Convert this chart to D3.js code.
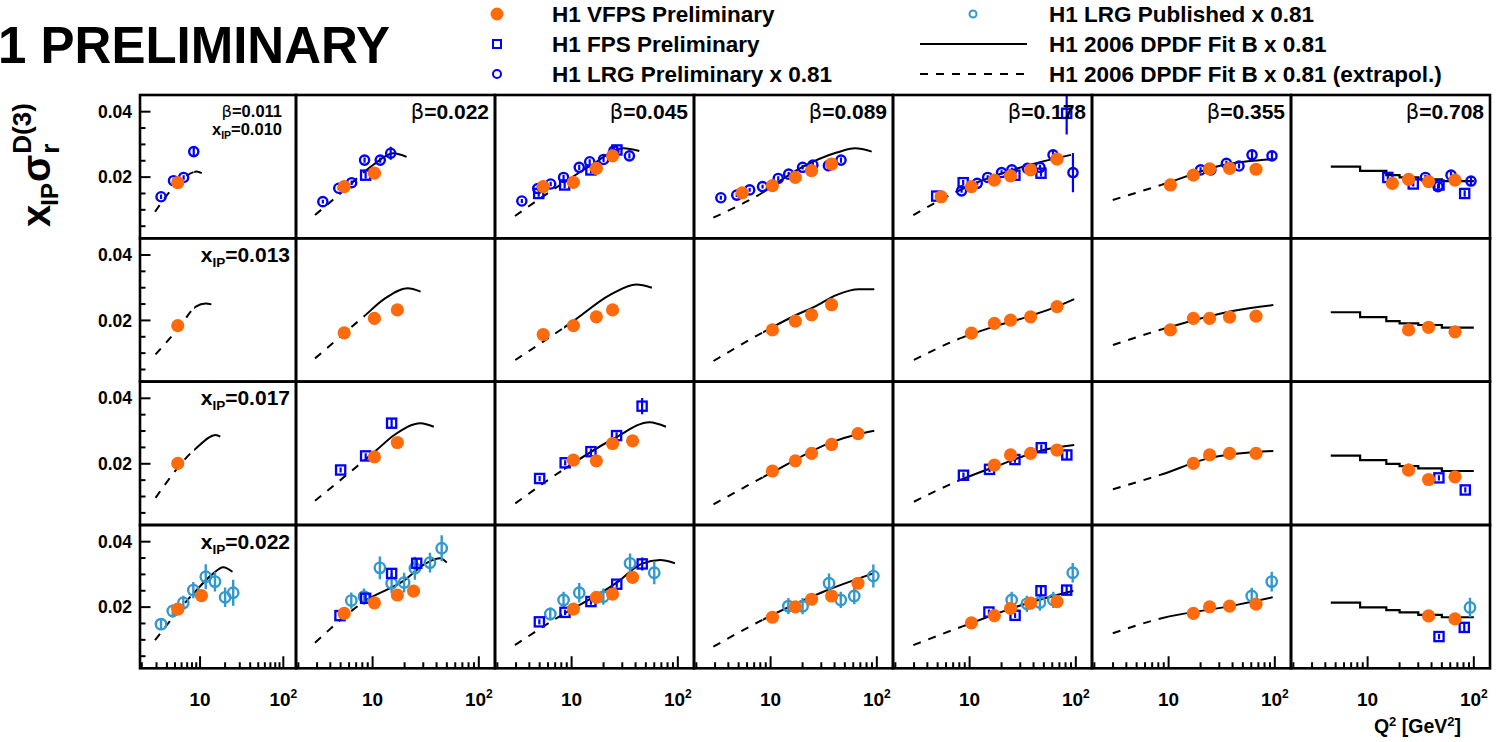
<!DOCTYPE html>
<html>
<head>
<meta charset="utf-8">
<script src="https://cdn.jsdelivr.net/npm/d3@7"></script>
<style>
  body { margin: 0; background: #fff; }
  svg text { font-family: "Liberation Sans", Arial, Helvetica, sans-serif; font-weight: bold; fill: #000; }
</style>
</head>
<body>
<svg id="chart" width="1504" height="742"></svg>
<script>
// Bin labels
var betaLabels = ["0.011", "0.022", "0.045", "0.089", "0.178", "0.355", "0.708"];
var xpomLabels = ["0.010", "0.013", "0.017", "0.022"];

// Axis ranges and ticks
var q2Range = [1.9, 142];
var sigmaRange = [0.0013, 0.0451];
var xMajorTicks = [10, 100];
var xMinorTicks = [2, 3, 4, 5, 6, 7, 8, 9, 20, 30, 40, 50, 60, 70, 80, 90];
var yMajorTicks = [0.02, 0.04];
var yMinorTicks = [0.005, 0.01, 0.015, 0.025, 0.03, 0.035];
var fitQ2Min = 8.5; // fit is dashed (extrapolated) below this

// H1 VFPS Preliminary: [row, col, Q2, value, error]
var vfps = [
  [0,0,5.4,0.0183,0.0008],
  [0,1,5.4,0.0171,0.0008],[0,1,10.4,0.0212,0.0009],
  [0,2,5.4,0.0171,0.0008],[0,2,10.4,0.0184,0.0008],[0,2,17.1,0.0227,0.0010],[0,2,24.3,0.0265,0.0015],
  [0,3,5.4,0.0152,0.0007],[0,3,10.4,0.0174,0.0008],[0,3,17.1,0.0199,0.0009],[0,3,24.3,0.0220,0.0010],[0,3,37.5,0.0240,0.0012],
  [0,4,5.4,0.0140,0.0007],[0,4,10.4,0.0171,0.0008],[0,4,17.1,0.0191,0.0009],[0,4,24.3,0.0204,0.0010],[0,4,37.5,0.0222,0.0010],[0,4,66.5,0.0255,0.0015],
  [0,5,10.4,0.0176,0.0008],[0,5,17.1,0.0206,0.0009],[0,5,24.3,0.0225,0.0010],[0,5,37.5,0.0227,0.0010],[0,5,66.5,0.0224,0.0010],
  [0,6,17.1,0.0181,0.0009],[0,6,24.3,0.0193,0.0012],[0,6,37.5,0.0186,0.0012],[0,6,66.5,0.0191,0.0015],
  [1,0,5.4,0.0184,0.0008],
  [1,1,5.4,0.0162,0.0008],[1,1,10.4,0.0206,0.0009],[1,1,17.1,0.0232,0.0012],
  [1,2,5.4,0.0157,0.0008],[1,2,10.4,0.0184,0.0008],[1,2,17.1,0.0211,0.0009],[1,2,24.3,0.0232,0.0010],
  [1,3,10.4,0.0171,0.0008],[1,3,17.1,0.0198,0.0009],[1,3,24.3,0.0217,0.0010],[1,3,37.5,0.0248,0.0012],
  [1,4,10.4,0.0161,0.0008],[1,4,17.1,0.0191,0.0012],[1,4,24.3,0.0201,0.0010],[1,4,37.5,0.0211,0.0010],[1,4,66.5,0.0242,0.0015],
  [1,5,10.4,0.0171,0.0008],[1,5,17.1,0.0206,0.0012],[1,5,24.3,0.0206,0.0010],[1,5,37.5,0.0210,0.0010],[1,5,66.5,0.0213,0.0010],
  [1,6,24.3,0.0171,0.0010],[1,6,37.5,0.0179,0.0010],[1,6,66.5,0.0165,0.0010],
  [2,0,5.4,0.0201,0.0008],
  [2,1,10.4,0.0221,0.0009],[2,1,17.1,0.0265,0.0015],
  [2,2,10.4,0.0211,0.0009],[2,2,17.1,0.0209,0.0010],[2,2,24.3,0.0262,0.0012],[2,2,37.5,0.0270,0.0015],
  [2,3,10.4,0.0178,0.0008],[2,3,17.1,0.0209,0.0009],[2,3,24.3,0.0232,0.0010],[2,3,37.5,0.0259,0.0012],[2,3,66.5,0.0292,0.0015],
  [2,4,17.1,0.0196,0.0009],[2,4,24.3,0.0227,0.0012],[2,4,37.5,0.0232,0.0012],[2,4,66.5,0.0242,0.0012],
  [2,5,17.1,0.0201,0.0015],[2,5,24.3,0.0227,0.0012],[2,5,37.5,0.0232,0.0012],[2,5,66.5,0.0232,0.0012],
  [2,6,24.3,0.0181,0.0020],[2,6,37.5,0.0152,0.0010],[2,6,66.5,0.0160,0.0010],
  [3,0,5.4,0.0194,0.0008],[3,0,10.4,0.0235,0.0010],
  [3,1,5.4,0.0181,0.0008],[3,1,10.4,0.0213,0.0009],[3,1,17.1,0.0237,0.0010],[3,1,24.3,0.0249,0.0012],
  [3,2,10.4,0.0194,0.0009],[3,2,17.1,0.0230,0.0010],[3,2,24.3,0.0240,0.0012],[3,2,37.5,0.0291,0.0015],
  [3,3,10.4,0.0169,0.0008],[3,3,17.1,0.0201,0.0009],[3,3,24.3,0.0224,0.0010],[3,3,37.5,0.0234,0.0012],[3,3,66.5,0.0273,0.0015],
  [3,4,10.4,0.0152,0.0008],[3,4,17.1,0.0174,0.0009],[3,4,24.3,0.0196,0.0010],[3,4,37.5,0.0212,0.0010],[3,4,66.5,0.0217,0.0012],
  [3,5,17.1,0.0181,0.0012],[3,5,24.3,0.0201,0.0012],[3,5,37.5,0.0203,0.0010],[3,5,66.5,0.0209,0.0010],
  [3,6,37.5,0.0173,0.0010],[3,6,66.5,0.0164,0.0010]
];

// H1 FPS Preliminary: [row, col, Q2, value, error]
var fps = [
  [0,1,8.6,0.0206,0.0010],
  [0,2,4.9,0.0150,0.0010],[0,2,8.6,0.0176,0.0010],[0,2,15.2,0.0222,0.0010],[0,2,26.7,0.0283,0.0015],
  [0,4,4.9,0.0142,0.0008],[0,4,8.7,0.0183,0.0008],[0,4,26.7,0.0206,0.0008],[0,4,47,0.0212,0.0010],[0,4,82,0.0395,0.0065],
  [0,6,15.5,0.0199,0.0008],[0,6,26.9,0.0179,0.0008],[0,6,47,0.0176,0.0010],[0,6,82,0.0150,0.0010],
  [2,1,5.0,0.0181,0.0008],[2,1,8.6,0.0224,0.0008],[2,1,15.1,0.0324,0.0015],
  [2,2,5.0,0.0155,0.0008],[2,2,8.7,0.0203,0.0008],[2,2,15.2,0.0237,0.0010],[2,2,26.5,0.0286,0.0010],[2,2,46.1,0.0376,0.0025],
  [2,4,8.75,0.0165,0.0008],[2,4,15.4,0.0183,0.0008],[2,4,26.7,0.0213,0.0010],[2,4,47.3,0.0249,0.0010],[2,4,82.3,0.0227,0.0015],
  [2,6,46.9,0.0157,0.0008],[2,6,83.1,0.0120,0.0008],
  [3,1,4.93,0.0174,0.0008],[3,1,8.6,0.0227,0.0010],[3,1,15.1,0.0303,0.0012],[3,1,26,0.0334,0.0015],
  [3,2,4.97,0.0155,0.0008],[3,2,8.67,0.0184,0.0008],[3,2,15.2,0.0217,0.0010],[3,2,26.6,0.0270,0.0010],[3,2,46.2,0.0332,0.0020],
  [3,4,15.2,0.0185,0.0008],[3,4,26.8,0.0175,0.0008],[3,4,47,0.0250,0.0012],[3,4,82,0.0252,0.0015],
  [3,6,47,0.0110,0.0008],[3,6,81.3,0.0138,0.0012]
];

// H1 LRG Preliminary x 0.81: [row, col, Q2, value, error]
var lrgPrelim = [
  [0,0,3.4,0.0140,0.0007],[0,0,4.8,0.0189,0.0007],[0,0,6.35,0.0199,0.0007],[0,0,8.4,0.0278,0.0012],
  [0,1,3.4,0.0125,0.0006],[0,1,4.8,0.0166,0.0006],[0,1,6.35,0.0183,0.0007],[0,1,8.4,0.0252,0.0008],[0,1,11.8,0.0252,0.0008],[0,1,14.8,0.0273,0.0020],
  [0,2,3.4,0.0127,0.0006],[0,2,4.8,0.0165,0.0006],[0,2,6.35,0.0179,0.0007],[0,2,8.4,0.0199,0.0008],[0,2,11.8,0.0230,0.0008],[0,2,14.8,0.0247,0.0008],[0,2,20,0.0254,0.0008],[0,2,25,0.0280,0.0012],[0,2,35,0.0265,0.0008],
  [0,3,3.4,0.0137,0.0006],[0,3,4.8,0.0145,0.0006],[0,3,6.35,0.0161,0.0006],[0,3,8.4,0.0171,0.0006],[0,3,11.8,0.0196,0.0007],[0,3,14.8,0.0209,0.0007],[0,3,20,0.0230,0.0007],[0,3,25,0.0237,0.0008],[0,3,35,0.0235,0.0008],[0,3,46,0.0252,0.0008],
  [0,4,8.4,0.0158,0.0006],[0,4,11.8,0.0181,0.0006],[0,4,14.8,0.0199,0.0007],[0,4,20,0.0214,0.0007],[0,4,25,0.0222,0.0007],[0,4,35,0.0227,0.0008],[0,4,46,0.0230,0.0008],[0,4,61,0.0268,0.0012],[0,4,94,0.0214,0.0060],
  [0,5,20,0.0222,0.0008],[0,5,25,0.0222,0.0008],[0,5,35,0.0242,0.0008],[0,5,46,0.0234,0.0008],[0,5,61,0.0268,0.0015],[0,5,94,0.0265,0.0015],
  [0,6,35,0.0199,0.0008],[0,6,46,0.0171,0.0008],[0,6,61,0.0206,0.0010],[0,6,94,0.0188,0.0012]
];

// H1 LRG Published x 0.81: [row, col, Q2, value, error]
var lrgPub = [
  [3,0,3.4,0.0148,0.0018],[3,0,4.7,0.0188,0.0020],[3,0,6.3,0.0213,0.0022],[3,0,8.3,0.0252,0.0025],[3,0,11.7,0.0293,0.0038],[3,0,15.1,0.0278,0.0030],[3,0,20,0.0230,0.0030],[3,0,25,0.0244,0.0040],
  [3,1,6.3,0.0220,0.0025],[3,1,8.3,0.0232,0.0025],[3,1,11.7,0.0320,0.0035],[3,1,15.1,0.0273,0.0030],[3,1,19.8,0.0275,0.0030],[3,1,25,0.0319,0.0035],[3,1,34.7,0.0336,0.0030],[3,1,44.7,0.0380,0.0040],
  [3,2,6.3,0.0179,0.0020],[3,2,8.4,0.0222,0.0025],[3,2,11.8,0.0244,0.0030],[3,2,19.9,0.0232,0.0025],[3,2,35.5,0.0334,0.0030],[3,2,60,0.0305,0.0035],
  [3,3,14.7,0.0203,0.0025],[3,3,20,0.0203,0.0025],[3,3,35.5,0.0273,0.0030],[3,3,45.8,0.0222,0.0025],[3,3,61.3,0.0234,0.0025],[3,3,92.7,0.0295,0.0035],
  [3,4,24.9,0.0222,0.0025],[3,4,34.6,0.0210,0.0025],[3,4,45.9,0.0214,0.0025],[3,4,61.4,0.0222,0.0025],[3,4,93.5,0.0305,0.0030],
  [3,5,60.6,0.0234,0.0025],[3,5,93.5,0.0278,0.0030],
  [3,6,92,0.0199,0.0030]
];

// H1 2006 DPDF Fit B x 0.81: [row, col, [[Q2, value], ...]]
var fitCurves = [
  [0,0,[[2.88,0.0094],[4.16,0.0150],[6.6,0.0201],[9.1,0.0217],[10.5,0.0212]]],
  [0,1,[[2.87,0.0084],[5.0,0.0151],[10.1,0.0237],[15.7,0.0273],[20.9,0.0262]]],
  [0,2,[[2.93,0.0081],[7.8,0.0176],[14.9,0.0234],[30.7,0.0288],[43.4,0.0280]]],
  [0,3,[[2.89,0.0076],[7.4,0.0142],[18.9,0.0227],[41.9,0.0275],[62.4,0.0288],[89.5,0.0278]]],
  [0,4,[[2.95,0.0084],[10.3,0.0176],[32,0.0232],[90,0.0268]]],
  [0,5,[[2.98,0.0130],[8.9,0.0178],[32.8,0.0237],[100,0.0255]]],
  [1,0,[[2.92,0.0096],[5.5,0.0176],[8.9,0.0242],[11.7,0.0252],[13.7,0.0249]]],
  [1,1,[[2.87,0.0084],[8.2,0.0211],[13.2,0.0268],[21.3,0.0298],[28.3,0.0288]]],
  [1,2,[[2.95,0.0079],[10.7,0.0201],[23,0.0278],[40.8,0.0310],[57,0.0300]]],
  [1,3,[[2.9,0.0076],[10.5,0.0180],[17,0.0215],[26,0.0242],[42,0.0278],[68,0.0295],[94.6,0.0295]]],
  [1,4,[[2.99,0.0079],[8.1,0.0145],[15.8,0.0178],[37.3,0.0214],[66,0.0242],[96.6,0.0265]]],
  [1,5,[[2.99,0.0125],[8.7,0.0173],[39.9,0.0229],[96.8,0.0247]]],
  [2,0,[[2.92,0.0096],[8.9,0.0247],[15.5,0.0288],[17.5,0.0283]]],
  [2,1,[[2.87,0.0087],[10.9,0.0242],[16,0.0288],[28.3,0.0324],[37.7,0.0313]]],
  [2,2,[[2.95,0.0079],[9.7,0.0196],[25.3,0.0278],[54.2,0.0327],[77.3,0.0313]]],
  [2,3,[[2.9,0.0076],[10.5,0.0175],[38.4,0.0267],[66,0.0290],[94.6,0.0301]]],
  [2,4,[[2.99,0.0084],[8.1,0.0150],[19.1,0.0196],[49.7,0.0242],[96.6,0.0257]]],
  [2,5,[[2.99,0.0122],[8.7,0.0168],[24.5,0.0218],[96.8,0.0239]]],
  [3,0,[[2.88,0.0099],[8.7,0.0247],[14,0.0300],[19,0.0322],[24.5,0.0308]]],
  [3,1,[[2.87,0.0091],[8.8,0.0222],[19.5,0.0280],[32.3,0.0335],[43.2,0.0349],[49.9,0.0336]]],
  [3,2,[[2.93,0.0084],[7.2,0.0166],[26.6,0.0275],[46,0.0333],[68,0.0344],[94,0.0334]]],
  [3,3,[[2.89,0.0079],[8.5,0.0162],[31.4,0.0247],[92.7,0.0303]]],
  [3,4,[[2.95,0.0084],[8.7,0.0142],[30,0.0205],[94.7,0.0250]]],
  [3,5,[[2.98,0.0120],[8.6,0.0166],[37.8,0.0203],[95.5,0.0230]]]
];

// Fit at beta=0.708 is drawn as a histogram
var stepEdges = [4.5, 8.5, 15, 20, 30, 50, 100];
var stepValues = [
  [0.0232, 0.0219, 0.0206, 0.0199, 0.0193, 0.0188],
  [0.0225, 0.0210, 0.0198, 0.0191, 0.0186, 0.0178],
  [0.0225, 0.0211, 0.0200, 0.0193, 0.0186, 0.0178],
  [0.0214, 0.0199, 0.0191, 0.0184, 0.0176, 0.0169]
];

var colOrange = "#ff6a0d";
var colBlue = "#0000ff";
var colLight = "#3399cc";

// Layout: pad frames
var colEdges = [140, 296, 495, 694, 893, 1092, 1291, 1490];
var rowEdges = [95, 238.3, 381.6, 525, 668.3];

var svg = d3.select("#chart");
var defs = svg.append("defs");

var xs = d3.range(7).map(function (c) {
  return d3.scaleLog().domain(q2Range).range([colEdges[c], colEdges[c + 1]]);
});
var ys = d3.range(4).map(function (r) {
  return d3.scaleLinear().domain(sigmaRange).range([rowEdges[r + 1], rowEdges[r]]);
});

// clip paths for each pad, and the dashed / solid parts of the fit
d3.range(4).forEach(function (r) {
  d3.range(7).forEach(function (c) {
    var x0 = colEdges[c], x1 = colEdges[c + 1], y0 = rowEdges[r], y1 = rowEdges[r + 1];
    var xs85 = xs[c](fitQ2Min);
    defs.append("clipPath").attr("id", "pad-" + r + "-" + c)
      .append("rect").attr("x", x0).attr("y", y0).attr("width", x1 - x0).attr("height", y1 - y0);
    defs.append("clipPath").attr("id", "dash-" + r + "-" + c)
      .append("rect").attr("x", x0).attr("y", y0).attr("width", xs85 - x0).attr("height", y1 - y0);
    defs.append("clipPath").attr("id", "solid-" + r + "-" + c)
      .append("rect").attr("x", xs85).attr("y", y0).attr("width", x1 - xs85).attr("height", y1 - y0);
  });
});

var gCurves = svg.append("g");
var gPoints = svg.append("g");

// Fit curves
fitCurves.forEach(function (fc) {
  var r = fc[0], c = fc[1];
  var line = d3.line()
    .x(function (d) { return xs[c](d[0]); })
    .y(function (d) { return ys[r](d[1]); })
    .curve(d3.curveMonotoneX);
  gCurves.append("path").attr("d", line(fc[2]))
    .attr("clip-path", "url(#dash-" + r + "-" + c + ")")
    .attr("fill", "none").attr("stroke", "#000").attr("stroke-width", 2)
    .attr("stroke-dasharray", "8,8");
  gCurves.append("path").attr("d", line(fc[2]))
    .attr("clip-path", "url(#solid-" + r + "-" + c + ")")
    .attr("fill", "none").attr("stroke", "#000").attr("stroke-width", 2);
});

stepValues.forEach(function (vals, r) {
  var c = 6;
  var pts = stepEdges.map(function (e, i) { return [e, vals[Math.min(i, vals.length - 1)]]; });
  var line = d3.line()
    .x(function (d) { return xs[c](d[0]); })
    .y(function (d) { return ys[r](d[1]); })
    .curve(d3.curveStepAfter);
  gCurves.append("path").attr("d", line(pts))
    .attr("clip-path", "url(#pad-" + r + "-" + c + ")")
    .attr("fill", "none").attr("stroke", "#000").attr("stroke-width", 2.2);
});

// Data points with vertical error bars
function drawSeries(data, color, shape, size, barWidth) {
  data.forEach(function (d) {
    var r = d[0], c = d[1];
    var g = gPoints.append("g").attr("clip-path", "url(#pad-" + r + "-" + c + ")");
    var px = xs[c](d[2]), py = ys[r](d[3]);
    g.append("line")
      .attr("x1", px).attr("x2", px)
      .attr("y1", ys[r](d[3] - d[4])).attr("y2", ys[r](d[3] + d[4]))
      .attr("stroke", color).attr("stroke-width", barWidth);
    if (shape === "dot") {
      g.append("circle").attr("cx", px).attr("cy", py).attr("r", size).attr("fill", color);
    } else if (shape === "square") {
      g.append("rect").attr("x", px - size).attr("y", py - size)
        .attr("width", 2 * size).attr("height", 2 * size)
        .attr("fill", "none").attr("stroke", color).attr("stroke-width", 2.3);
    } else {
      g.append("circle").attr("cx", px).attr("cy", py).attr("r", size)
        .attr("fill", "none").attr("stroke", color).attr("stroke-width", 2.4);
    }
  });
}

drawSeries(lrgPub, colLight, "circle", 5.2, 2.4);
drawSeries(lrgPrelim, colBlue, "circle", 4.6, 2.2);
drawSeries(fps, colBlue, "square", 4.6, 2.2);
drawSeries(vfps, colOrange, "dot", 6.6, 2.2);

// Pad frames
d3.range(4).forEach(function (r) {
  d3.range(7).forEach(function (c) {
    svg.append("rect")
      .attr("x", colEdges[c]).attr("y", rowEdges[r])
      .attr("width", colEdges[c + 1] - colEdges[c]).attr("height", rowEdges[r + 1] - rowEdges[r])
      .attr("fill", "none").attr("stroke", "#000").attr("stroke-width", 2.6);
  });
});

// Y ticks (first column only)
d3.range(4).forEach(function (r) {
  var x0 = colEdges[0];
  yMinorTicks.forEach(function (v) {
    svg.append("line").attr("x1", x0).attr("x2", x0 + 5.5)
      .attr("y1", ys[r](v)).attr("y2", ys[r](v)).attr("stroke", "#000").attr("stroke-width", 2);
  });
  yMajorTicks.forEach(function (v) {
    svg.append("line").attr("x1", x0).attr("x2", x0 + 10.5)
      .attr("y1", ys[r](v)).attr("y2", ys[r](v)).attr("stroke", "#000").attr("stroke-width", 2);
    svg.append("text").attr("x", 132).attr("y", ys[r](v) + 6.2)
      .attr("text-anchor", "end").style("font-size", "17.5px")
      .text(d3.format(".2f")(v));
  });
});

// X ticks (bottom row only)
var yb = rowEdges[4];
d3.range(7).forEach(function (c) {
  var g = svg.append("g").attr("clip-path", "url(#pad-3-" + c + ")");
  xMinorTicks.forEach(function (q) {
    g.append("line").attr("x1", xs[c](q)).attr("x2", xs[c](q))
      .attr("y1", yb).attr("y2", yb - 6).attr("stroke", "#000").attr("stroke-width", 2);
  });
  xMajorTicks.forEach(function (q) {
    g.append("line").attr("x1", xs[c](q)).attr("x2", xs[c](q))
      .attr("y1", yb).attr("y2", yb - 12).attr("stroke", "#000").attr("stroke-width", 2);
  });
  svg.append("text").attr("x", xs[c](10)).attr("y", 706)
    .attr("text-anchor", "middle").style("font-size", "19px").text("10");
  var t = svg.append("text").attr("x", xs[c](100)).attr("y", 706)
    .attr("text-anchor", "middle").style("font-size", "19px");
  t.append("tspan").text("10");
  t.append("tspan").attr("dy", -8).style("font-size", "12px").text("2");
});

// Q2 axis title
var qt = svg.append("text").attr("x", 1461).attr("y", 733).attr("text-anchor", "end").style("font-size", "19.5px");
qt.append("tspan").text("Q");
qt.append("tspan").attr("dy", -7).style("font-size", "13px").text("2");
qt.append("tspan").attr("dy", 7).text(" [GeV");
qt.append("tspan").attr("dy", -7).style("font-size", "13px").text("2");
qt.append("tspan").attr("dy", 7).text("]");

// beta labels
betaLabels.forEach(function (b, c) {
  if (c === 0) return;
  var t = svg.append("text").attr("x", colEdges[c + 1] - 6).attr("y", rowEdges[0] + 24)
    .attr("text-anchor", "end").style("font-size", "21px");
  t.append("tspan").style("font-weight", "normal").style("font-family", "DejaVu Sans").text("\u03b2");
  t.append("tspan").text("=" + b);
});
(function () {
  var t = svg.append("text").attr("x", 282).attr("y", 116.5).attr("text-anchor", "end").style("font-size", "16.5px");
  t.append("tspan").style("font-weight", "normal").style("font-family", "DejaVu Sans").text("\u03b2");
  t.append("tspan").text("=" + betaLabels[0]);
  var u = svg.append("text").attr("x", 282).attr("y", 134.5).attr("text-anchor", "end").style("font-size", "16.5px");
  u.append("tspan").text("x");
  u.append("tspan").attr("dy", 4).style("font-size", "10.5px").text("IP");
  u.append("tspan").attr("dy", -4).text("=" + xpomLabels[0]);
})();

// x_IP labels
xpomLabels.forEach(function (xp, r) {
  if (r === 0) return;
  var t = svg.append("text").attr("x", 290).attr("y", rowEdges[r] + 23.5)
    .attr("text-anchor", "end").style("font-size", "21px");
  t.append("tspan").text("x");
  t.append("tspan").attr("dy", 5).style("font-size", "13.5px").text("IP");
  t.append("tspan").attr("dy", -5).text("=" + xp);
});

// Y axis title: x_IP sigma_r^D(3), rotated
(function () {
  var g = svg.append("g").attr("transform", "translate(50,227) rotate(-90)");
  var pos = 0;
  var a = g.append("text").attr("x", pos).attr("y", 0).style("font-size", "40px").text("x");
  pos += a.node().getComputedTextLength() - 1;
  var b = g.append("text").attr("x", pos).attr("y", 8).style("font-size", "24px").text("IP");
  pos += b.node().getComputedTextLength() + 1;
  var s = g.append("text").attr("x", pos).attr("y", 0).style("font-size", "40px").text("\u03c3");
  pos += s.node().getComputedTextLength() + 1;
  g.append("text").attr("x", pos).attr("y", 9).style("font-size", "26px").text("r");
  g.append("text").attr("x", pos).attr("y", -19).style("font-size", "26px").text("D(3)");
})();

// Big title, cut at the left border as in the original
svg.append("text").attr("x", 390).attr("y", 63).attr("text-anchor", "end")
  .style("font-size", "51px").text("H1 PRELIMINARY");

// Legend
var legendFont = "22.5px";
var lg = svg.append("g");
lg.append("circle").attr("cx", 497).attr("cy", 14).attr("r", 6.5).attr("fill", colOrange);
lg.append("rect").attr("x", 493).attr("y", 40).attr("width", 8).attr("height", 8)
  .attr("fill", "none").attr("stroke", colBlue).attr("stroke-width", 2);
lg.append("circle").attr("cx", 497).attr("cy", 74).attr("r", 4).attr("fill", "none")
  .attr("stroke", colBlue).attr("stroke-width", 2);
lg.append("circle").attr("cx", 973).attr("cy", 14).attr("r", 3.5).attr("fill", "none")
  .attr("stroke", colLight).attr("stroke-width", 2);
lg.append("line").attr("x1", 920).attr("x2", 1027).attr("y1", 44).attr("y2", 44)
  .attr("stroke", "#000").attr("stroke-width", 2);
lg.append("line").attr("x1", 920).attr("x2", 1027).attr("y1", 74).attr("y2", 74)
  .attr("stroke", "#000").attr("stroke-width", 2).attr("stroke-dasharray", "8,8");
var legendLeft = ["H1 VFPS Preliminary", "H1 FPS Preliminary", "H1 LRG Preliminary x 0.81"];
var legendRight = ["H1 LRG Published x 0.81", "H1 2006 DPDF Fit B x 0.81", "H1 2006 DPDF Fit B x 0.81 (extrapol.)"];
legendLeft.forEach(function (s, i) {
  lg.append("text").attr("x", 552).attr("y", 22 + 30 * i).style("font-size", legendFont).text(s);
});
legendRight.forEach(function (s, i) {
  lg.append("text").attr("x", 1049).attr("y", 22 + 30 * i).style("font-size", legendFont).text(s);
});
</script>
</body>
</html>
